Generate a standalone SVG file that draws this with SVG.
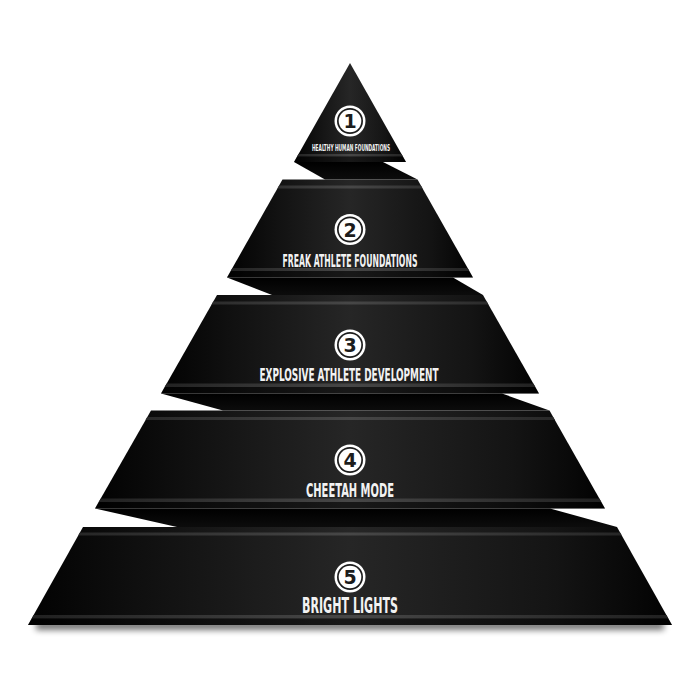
<svg xmlns="http://www.w3.org/2000/svg" width="700" height="700" viewBox="0 0 700 700">
<defs>
<linearGradient id="body" x1="0" y1="0" x2="1" y2="0">
<stop offset="0" stop-color="#020202"/>
<stop offset="0.18" stop-color="#101010"/>
<stop offset="0.5" stop-color="#262626"/>
<stop offset="0.82" stop-color="#141414"/>
<stop offset="1" stop-color="#020202"/>
</linearGradient>
<linearGradient id="band" x1="0" y1="0" x2="1" y2="0">
<stop offset="0" stop-color="#202020"/>
<stop offset="0.5" stop-color="#474747"/>
<stop offset="1" stop-color="#202020"/>
</linearGradient>
<linearGradient id="shade" x1="0" y1="0" x2="0" y2="1">
<stop offset="0" stop-color="#000"/>
<stop offset="1" stop-color="#0c0c0c"/>
</linearGradient>
<filter id="blur" x="-10%" y="-200%" width="120%" height="500%">
<feGaussianBlur stdDeviation="3"/>
</filter>
<clipPath id="c1"><polygon points="350,63 406,162 294,162"/></clipPath>
<clipPath id="c2"><polygon points="282.5,179.5 417.5,179.5 473,277.5 227,277.5"/></clipPath>
<clipPath id="c3"><polygon points="217,295 483,295 539,393.5 161,393.5"/></clipPath>
<clipPath id="c4"><polygon points="151,410.5 549.5,410.5 605,508.5 95,508.5"/></clipPath>
<clipPath id="c5"><polygon points="83,527 617,527 672,625 28,625"/></clipPath>
</defs>
<style>
.tier{fill:url(#body)}
.band{fill:url(#band)}
.low{fill:#000;opacity:0.35}
.sh{fill:url(#shade)}
.ring{fill:#ffffff}
.gap{fill:#1c1c1c}
.num{font-family:"DejaVu Sans","Liberation Sans",sans-serif;font-weight:bold;font-size:19px;fill:#1c1c1c;text-anchor:middle}
.lbl{font-family:"DejaVu Sans Condensed","Liberation Sans Narrow","Liberation Sans",sans-serif;font-weight:bold;fill:#f2f2f2;text-anchor:middle}
</style>
<rect width="700" height="700" fill="#ffffff"/>

<g id="shadows">
<rect x="36" y="621" width="628" height="9" fill="#000" opacity="0.55" filter="url(#blur)"/>
<polygon class="sh" points="294,162 383,162 417.5,179.5 325,179.5"/>
<polygon class="sh" points="227,277.5 453,277.5 483,295 272,295"/>
<polygon class="sh" points="161,393.5 502,393.5 549.5,410.5 223,410.5"/>
<polygon class="sh" points="95,508.5 550,508.5 617,527 177,527"/>
</g>

<g id="tier1">
<polygon class="tier" points="350,63 406,162 294,162"/>
<g clip-path="url(#c1)">
<rect class="band" x="290" y="154" width="120" height="2.5"/>
<rect class="low" x="290" y="156.5" width="120" height="6"/>
</g>
<circle class="ring" cx="350" cy="121" r="15.5"/>
<circle class="gap" cx="350" cy="121" r="13"/>
<circle class="ring" cx="350" cy="121" r="11.3"/>
<text class="num" x="350" y="128">1</text>
<text class="lbl" x="351" y="150.5" font-size="8.5" textLength="78" lengthAdjust="spacingAndGlyphs">HEALTHY HUMAN FOUNDATIONS</text>
</g>

<g id="tier2">
<polygon class="tier" points="282.5,179.5 417.5,179.5 473,277.5 227,277.5"/>
<g clip-path="url(#c2)">
<rect class="band" x="220" y="185.5" width="260" height="3"/>
<rect class="band" x="220" y="268" width="260" height="3"/>
<rect class="low" x="220" y="271" width="260" height="7"/>
</g>
<circle class="ring" cx="350" cy="229.5" r="15.5"/>
<circle class="gap" cx="350" cy="229.5" r="13"/>
<circle class="ring" cx="350" cy="229.5" r="11.3"/>
<text class="num" x="350" y="236.5">2</text>
<text class="lbl" x="350" y="266.5" font-size="17" textLength="135" lengthAdjust="spacingAndGlyphs">FREAK ATHLETE FOUNDATIONS</text>
</g>

<g id="tier3">
<polygon class="tier" points="217,295 483,295 539,393.5 161,393.5"/>
<g clip-path="url(#c3)">
<rect class="band" x="155" y="301.5" width="390" height="3"/>
<rect class="band" x="155" y="383.5" width="390" height="3.5"/>
<rect class="low" x="155" y="387" width="390" height="7"/>
</g>
<circle class="ring" cx="350" cy="345" r="15.5"/>
<circle class="gap" cx="350" cy="345" r="13"/>
<circle class="ring" cx="350" cy="345" r="11.3"/>
<text class="num" x="350" y="352">3</text>
<text class="lbl" x="349" y="381" font-size="18" textLength="179" lengthAdjust="spacingAndGlyphs">EXPLOSIVE ATHLETE DEVELOPMENT</text>
</g>

<g id="tier4">
<polygon class="tier" points="151,410.5 549.5,410.5 605,508.5 95,508.5"/>
<g clip-path="url(#c4)">
<rect class="band" x="90" y="417" width="520" height="3"/>
<rect class="band" x="90" y="498.5" width="520" height="3.5"/>
<rect class="low" x="90" y="502" width="520" height="7"/>
</g>
<circle class="ring" cx="350" cy="460" r="15.5"/>
<circle class="gap" cx="350" cy="460" r="13"/>
<circle class="ring" cx="350" cy="460" r="11.3"/>
<text class="num" x="350" y="467">4</text>
<text class="lbl" x="350" y="497" font-size="19" textLength="88" lengthAdjust="spacingAndGlyphs">CHEETAH MODE</text>
</g>

<g id="tier5">
<polygon class="tier" points="83,527 617,527 672,625 28,625"/>
<g clip-path="url(#c5)">
<rect class="band" x="25" y="532.5" width="650" height="3"/>
<rect class="band" x="25" y="615" width="650" height="3.5"/>
<rect class="low" x="25" y="618.5" width="650" height="7"/>
</g>
<circle class="ring" cx="350" cy="577" r="15.5"/>
<circle class="gap" cx="350" cy="577" r="13"/>
<circle class="ring" cx="350" cy="577" r="11.3"/>
<text class="num" x="350" y="584">5</text>
<text class="lbl" x="350" y="613" font-size="21" textLength="96" lengthAdjust="spacingAndGlyphs">BRIGHT LIGHTS</text>
</g>
</svg>
